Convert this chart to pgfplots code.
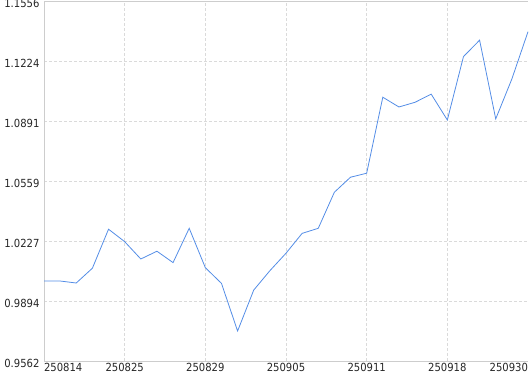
\documentclass[border=0pt]{standalone}
\usepackage{pgfplots}
\pgfplotsset{compat=1.18}
\usepackage{fontspec}
\setmainfont{DejaVu Sans Condensed}
\definecolor{linec}{RGB}{84,141,230}
\definecolor{gridc}{RGB}{218,218,218}
\definecolor{axc}{RGB}{205,205,205}
\begin{document}
\begin{tikzpicture}
\begin{axis}[
  scale only axis,
  width=484bp, height=360bp,
  xmin=0, xmax=30,
  ymin=0.9562, ymax=1.1556,
  axis x line*=bottom, axis y line*=left,
  axis line style={draw=axc, line width=0.8bp, -},
  xtick={0,5,10,15,20,25},
  xticklabels={\makebox[0pt][l]{250814},250825,250829,250905,250911,250918},
  extra x ticks={30},
  extra x tick labels={\makebox[0pt][r]{250930}},
  extra x tick style={grid=none},
  ytick={0.9562,0.9894,1.0227,1.0559,1.0891,1.1224,1.1556},
  yticklabels={0.9562,0.9894,1.0227,1.0559,1.0891,1.1224,1.1556},
  major tick length=0pt,
  grid=major,
  major grid style={draw=gridc, line width=0.8bp, dash pattern=on 3bp off 2bp},
  tick label style={font=\fontsize{11.2}{12}\selectfont, text=black!85},
  xticklabel style={yshift=1.5bp},
  yticklabel style={xshift=-1bp, yshift=-2.5bp},
  clip=false,
]
\coordinate (bl) at (rel axis cs:0,0);
\coordinate (tr) at (rel axis cs:1,1);
\draw[axc, line width=0.8bp] (rel axis cs:0,1) -- (rel axis cs:1,1);
\addplot[color=linec, line width=0.8bp, mark=none] coordinates {
(0,1.0005) (1,1.0005) (2,0.9994) (3,1.0076) (4,1.0292) (5,1.0223)
(6,1.0127) (7,1.0170) (8,1.0107) (9,1.0297) (10,1.0079) (11,0.9992)
(12,0.9728) (13,0.9955) (14,1.0062) (15,1.0159) (16,1.0269) (17,1.0297)
(18,1.0497) (19,1.0580) (20,1.0602) (21,1.1023) (22,1.0969) (23,1.0995)
(24,1.1040) (25,1.0897) (26,1.1248) (27,1.1339) (28,1.0903) (29,1.1124)
(30,1.1386)
};
\end{axis}
\pgfresetboundingbox
\path[use as bounding box] ([shift={(-44bp,-13bp)}]bl) rectangle ([shift={(2bp,1bp)}]tr);
\end{tikzpicture}
\end{document}
